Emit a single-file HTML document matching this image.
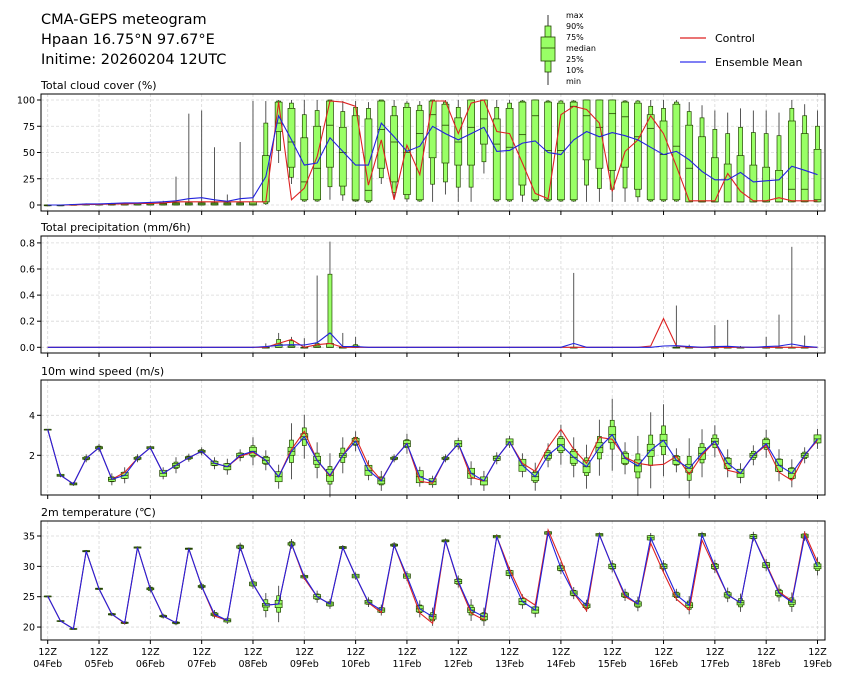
<!DOCTYPE html>
<html><head><meta charset="utf-8"><title>CMA-GEPS meteogram</title>
<style>
html,body{margin:0;padding:0;background:#fff;}
svg{display:block;font-family:"DejaVu Sans","Liberation Sans",sans-serif;}
</style></head>
<body>
<svg id="chart" width="845" height="681" viewBox="0 0 845 681" xmlns="http://www.w3.org/2000/svg">
<text x="41" y="24" font-size="14.5">CMA-GEPS meteogram</text>
<text x="41" y="44" font-size="14.5">Hpaan 16.75°N 97.67°E</text>
<text x="41" y="64" font-size="14.5">Initime: 20260204 12UTC</text>
<g>
<line x1="548" y1="15" x2="548" y2="85" stroke="#333" stroke-width="1"/>
<rect x="545" y="26" width="6" height="11" fill="#99ff66" stroke="#224400" stroke-width="0.8"/>
<rect x="545" y="61" width="6" height="11" fill="#99ff66" stroke="#224400" stroke-width="0.8"/>
<rect x="541" y="37" width="14" height="24" fill="#99ff66" stroke="#224400" stroke-width="0.8"/>
<line x1="541" y1="48" x2="555" y2="48" stroke="#224400" stroke-width="0.8"/>
<g font-size="8" fill="#000">
<text x="566" y="18">max</text><text x="566" y="29">90%</text><text x="566" y="40">75%</text><text x="566" y="51">median</text><text x="566" y="62">25%</text><text x="566" y="73">10%</text><text x="566" y="84">min</text>
</g></g>
<g><line x1="680" y1="38" x2="706" y2="38" stroke="#dd2222" stroke-width="1.2"/><text x="715" y="42" font-size="11">Control</text></g>
<g><line x1="680" y1="62" x2="706" y2="62" stroke="#3333ee" stroke-width="1.2"/><text x="715" y="66" font-size="11">Ensemble Mean</text></g>
<g id="plots"></g>
</svg>
<script>
// ---- data (6-hourly, 61 steps from 12Z 04Feb) ----
const dayLabels = ["04Feb","05Feb","06Feb","07Feb","08Feb","09Feb","10Feb","11Feb","12Feb","13Feb","14Feb","15Feb","16Feb","17Feb","18Feb","19Feb"];
// cloud cover (%)
const cloudMean = [0,0,0.5,1,1,1.5,2,2,2.5,3,4,6,7,5,3.5,6,7,27,85,62,38,40,64,51,38,38,78,65,51,56,75,68,62,68,74,51,52,59,61,50,48,62,70,65,69,66,62,55,48,51,43,32,24,24,31,22,23,24,37,33,29];
const cloudCtrl = [0,0,0,0.5,0.5,1,1,1.5,1.5,2,3,3,3,3,3,3,3,3,98,5,16,46,99,98,94,19,62,5,57,29,99,99,68,97,100,70,68,40,11,6,86,94,91,78,13,51,62,85,68,37,4,4,4,30,13,4,4,7,4,4,4];
const cloudMed = [0,0,0,0.5,0.5,0.5,1,1,1,1,1,1,1,1,1,1,1,3,78,60,22,35,76,50,4,14,72,60,50,68,86,76,60,74,82,58,55,67,85,52,52,94,85,74,87,84,65,73,48,56,35,3,3,3,3,3,3,3,15,15,5];
const cloudQ1 = [0,0,0,0,0,0,0,0,0,0,0,0,0,0,0,0,0,3,70,36,5,5,36,18,5,4,35,22,10,5,45,40,38,38,58,5,5,19,5,5,5,5,43,35,33,36,15,5,5,5,3,3,3,3,3,3,3,3,3,3,3];
const cloudQ3 = [0,0,0.5,1,1,1,1.5,1.5,1.5,1.5,2,2,2,2,2,2,3,47,98,92,64,75,99,74,85,82,99,85,93,90,99,96,83,100,100,82,92,98,100,98,97,98,100,100,100,98,97,86,80,96,76,65,45,39,47,38,36,33,80,68,53];
const cloudP90 = [0,0,0.5,1,1,1,1.5,1.5,1.5,1.5,2,2,2,2,2,2,3,78,99,97,86,90,100,89,93,92,100,94,97,95,100,98,93,100,100,93,97,99,100,99,99,99,100,100,100,99,99,94,92,98,89,83,72,68,74,69,68,66,92,85,75];
const cloudMin = [0,0,0,0,0,0,0,0,0,0,0,0,0,0,0,0,0,0,40,20,3,3,5,4,3,2,20,5,3,3,3,10,3,3,30,3,3,3,3,3,3,3,3,3,3,3,3,3,3,3,3,3,3,3,3,3,3,3,3,3,3];
const cloudMax = [0,0,1,1.5,1.5,2,2,2,3,4,27,87,90,55,10,60,99,99,100,100,100,100,100,99,99,98,100,100,99,99,100,100,100,100,100,100,100,100,100,100,100,100,100,100,100,100,100,100,100,100,98,95,90,88,92,90,90,88,100,96,90];
// precipitation (mm/6h)
const precMean = [0,0,0,0,0,0,0,0,0,0,0,0,0,0,0,0,0,0.005,0.015,0.02,0.018,0.035,0.11,0.005,0.005,0,0,0,0,0,0,0,0,0,0,0,0,0,0,0,0,0.03,0,0,0,0,0,0,0.01,0.012,0.005,0,0.005,0.008,0.002,0,0.005,0.01,0.025,0.008,0];
const precCtrl = [0,0,0,0,0,0,0,0,0,0,0,0,0,0,0,0,0,0,0.03,0.06,0,0.02,0.03,0,0,0,0,0,0,0,0,0,0,0,0,0,0,0,0,0,0,0,0,0,0,0,0,0.01,0.22,0.01,0,0,0,0,0,0,0,0,0,0,0];
const precQ3 = [0,0,0,0,0,0,0,0,0,0,0,0,0,0,0,0,0,0,0.025,0.01,0,0.01,0.03,0,0.01,0,0,0,0,0,0,0,0,0,0,0,0,0,0,0,0,0,0,0,0,0,0,0,0,0,0,0,0,0,0,0,0,0,0,0,0];
const precP90 = [0,0,0,0,0,0,0,0,0,0,0,0,0,0,0,0,0,0,0.06,0.05,0,0.03,0.56,0,0.02,0,0,0,0,0,0,0,0,0,0,0,0,0,0,0,0,0,0,0,0,0,0,0,0,0,0,0,0,0,0,0,0,0,0,0,0];
const precMax = [0,0,0,0,0,0,0,0,0,0,0,0,0,0,0,0,0,0.03,0.11,0.08,0.07,0.55,0.81,0.11,0.08,0,0,0,0,0,0,0,0,0,0,0,0,0,0,0,0,0.57,0,0,0,0,0,0,0,0.32,0.02,0,0.17,0.21,0.01,0,0.08,0.25,0.77,0.09,0];
// 10m wind speed (m/s)
const windMean = [3.3,1.0,0.57,1.85,2.38,0.8,1.0,1.85,2.38,1.1,1.5,1.88,2.2,1.6,1.43,2.0,2.2,1.75,0.93,2.2,2.93,1.75,1.0,2.0,2.7,1.25,0.72,1.85,2.58,0.93,0.68,1.85,2.58,1.1,0.72,1.85,2.67,1.5,0.93,2.0,2.53,1.9,1.43,2.38,3.03,1.85,1.47,2.25,2.75,1.75,1.35,2.1,2.7,1.6,1.1,2.0,2.58,1.5,1.1,2.0,2.82];
const windCtrl = [3.3,1.0,0.57,1.85,2.38,0.8,1.15,1.85,2.38,1.1,1.5,1.88,2.2,1.6,1.43,1.95,2.15,1.75,0.93,2.3,3.2,1.75,0.95,2.0,2.9,1.5,0.75,1.85,2.6,0.7,0.6,1.85,2.58,0.9,0.72,1.85,2.67,1.6,1.2,2.4,3.3,2.3,1.6,2.9,2.8,1.9,1.6,1.5,1.55,1.95,1.05,2.0,2.7,1.25,1.1,2.0,2.5,1.15,0.75,2.0,2.75];
const windIqr = [0,0.05,0.05,0.05,0.05,0.1,0.15,0.05,0.05,0.15,0.1,0.05,0.05,0.1,0.15,0.1,0.2,0.15,0.25,0.2,0.15,0.2,0.3,0.1,0.15,0.25,0.15,0.05,0.15,0.3,0.15,0.05,0.15,0.25,0.2,0.1,0.15,0.3,0.2,0.15,0.3,0.3,0.3,0.25,0.4,0.25,0.3,0.3,0.3,0.2,0.2,0.3,0.15,0.25,0.2,0.1,0.2,0.3,0.25,0.1,0.2];
const windRng = [0,0.1,0.1,0.2,0.2,0.3,0.4,0.2,0.1,0.3,0.4,0.2,0.2,0.3,0.4,0.3,0.7,0.5,0.6,1.4,1.1,0.9,1.1,0.9,0.5,0.5,0.5,0.2,0.5,0.5,0.3,0.2,0.3,0.6,0.5,0.3,0.3,0.6,0.7,0.6,1.0,1.0,1.1,1.4,1.8,0.8,1.5,1.9,1.8,0.6,1.5,1.2,0.8,0.7,0.5,0.5,0.7,0.8,0.7,0.4,0.5];
// 2m temperature (°C)
const tempMean = [25.1,21.0,19.7,32.5,26.3,22.1,20.7,33.1,26.3,21.8,20.7,32.9,26.7,22.1,21.1,33.2,27.1,23.6,23.8,33.7,28.3,25.0,23.8,33.1,28.4,24.1,22.8,33.5,28.4,23.0,21.7,34.2,27.5,22.8,21.7,34.9,28.9,24.2,22.8,35.5,29.7,25.6,23.5,35.2,30.0,25.3,23.8,34.7,30.0,25.3,23.6,35.2,30.0,25.3,24.0,34.9,30.2,25.6,24.1,35.0,30.0];
const tempCtrl = [25.1,21.0,19.7,32.5,26.3,22.1,20.6,33.1,26.3,21.8,20.7,32.9,26.7,21.8,21.1,33.2,27.1,23.6,23.8,33.7,28.0,25.0,23.8,33.1,28.4,24.0,22.4,33.5,28.0,22.3,20.6,34.2,27.3,22.3,21.2,34.9,29.5,25.0,23.6,36.0,31.0,25.6,22.7,35.2,30.0,25.0,23.8,33.8,29.0,24.6,22.8,34.3,29.7,25.3,24.0,34.9,30.4,25.8,24.3,35.5,30.7];
const tempIqr = [0,0.05,0.05,0.1,0.1,0.1,0.1,0.1,0.15,0.1,0.1,0.1,0.15,0.2,0.25,0.2,0.3,0.3,0.6,0.2,0.2,0.35,0.3,0.15,0.3,0.3,0.35,0.15,0.35,0.5,0.4,0.15,0.35,0.4,0.5,0.2,0.4,0.5,0.5,0.2,0.35,0.35,0.3,0.2,0.35,0.3,0.35,0.35,0.35,0.3,0.4,0.2,0.35,0.35,0.35,0.3,0.4,0.4,0.35,0.3,0.4];
const tempRng = [0,0.1,0.1,0.2,0.2,0.3,0.3,0.2,0.6,0.4,0.4,0.2,0.6,0.7,0.6,0.7,0.8,2.0,3.0,0.8,0.5,1.0,0.8,0.4,0.6,0.8,0.9,0.5,0.8,1.4,1.5,0.4,1.0,1.8,1.5,0.4,1.0,1.2,1.2,0.5,1.0,1.0,1.0,0.4,1.0,1.0,1.2,0.8,1.0,1.0,1.5,0.5,1.1,1.2,1.5,0.8,1.0,1.4,1.6,0.8,1.5];

// ---- layout ----
const NS = "http://www.w3.org/2000/svg";
const plots = document.getElementById("plots");
const X0 = 41, X1 = 825;
function xScale(i){ return 47.7 + 12.83 * i; }
function mk(tag, attrs, parent){
  const e = document.createElementNS(NS, tag);
  for (const k in attrs) e.setAttribute(k, attrs[k]);
  (parent || plots).appendChild(e);
  return e;
}
const panels = [
  {name:"cloud", title:"Total cloud cover (%)", top:94, bot:211, y:v=>205-1.05*v, ticks:[0,25,50,75,100], fmt:v=>String(v)},
  {name:"precip", title:"Total precipitation (mm/6h)", top:236, bot:353, y:v=>347.3-130.5*v, ticks:[0,0.2,0.4,0.6,0.8], fmt:v=>v.toFixed(1)},
  {name:"wind", title:"10m wind speed (m/s)", top:380, bot:495, y:v=>495.3-20*v, ticks:[2,4], fmt:v=>String(v)},
  {name:"temp", title:"2m temperature (\u2103)", top:521, bot:640, y:v=>536-(v-35)*6.07, ticks:[20,25,30,35], fmt:v=>String(v)}
];

function drawFrame(p){
  const g = mk("g", {});
  
  
  const t = mk("text", {x:41, y:p.top-5, "font-size":11}, g);
  t.textContent = p.title;
  
  
  for (let d = 0; d < dayLabels.length; d++){
    const x = xScale(d*4);
    const gl = mk("line", {x1:x, x2:x, y1:p.top, y2:p.bot, stroke:"#d8d8d8", "stroke-width":0.8, "stroke-dasharray":"3,2"}, g);
    
    
    mk("line", {x1:x, x2:x, y1:p.bot, y2:p.bot+4, stroke:"#000", "stroke-width":1}, g);
  }
  p.ticks.forEach(v=>{
    const y = p.y(v);
    const gl = mk("line", {x1:X0, x2:X1, y1:y, y2:y, stroke:"#d8d8d8", "stroke-width":0.8, "stroke-dasharray":"3,2"}, g);
    
    
    mk("line", {x1:X0-4, x2:X0, y1:y, y2:y, stroke:"#000", "stroke-width":1}, g);
    const tl = mk("text", {x:X0-6, y:y+3.5, "font-size":9.5, "text-anchor":"end"}, g);
    tl.textContent = p.fmt(v);
    
    
  });
  return g;
}
function drawBoxes(p, g, mn, p10, q1, med, q3, p90, mx){
  const bg = mk("g", {}, g);
  
  
  for (let i = 0; i < mn.length; i++){
    const x = xScale(i);
    if (p.name === "precip" && mx[i] <= 0) continue;
    const w = mk("line", {x1:x, x2:x, y1:p.y(mx[i]), y2:p.y(mn[i]), stroke:"#444", "stroke-width":0.9}, bg);
    
    
    const n = mk("rect", {x:x-2, y:p.y(p90[i]), width:4, height:Math.max(0.8, p.y(p10[i])-p.y(p90[i])), fill:"#99ff66", stroke:"#224400", "stroke-width":0.7}, bg);
    
    
    const b = mk("rect", {x:x-3.5, y:p.y(q3[i]), width:7, height:Math.max(0.8, p.y(q1[i])-p.y(q3[i])), fill:"#99ff66", stroke:"#224400", "stroke-width":0.7}, bg);
    
    
    mk("line", {x1:x-3.5, x2:x+3.5, y1:p.y(med[i]), y2:p.y(med[i]), stroke:"#224400", "stroke-width":0.8}, bg);
  }
}
function drawLine(p, g, vals, color, name){
  const pts = vals.map((v,i)=>xScale(i).toFixed(1)+","+p.y(v).toFixed(1)).join(" ");
  const l = mk("polyline", {points:pts, fill:"none", stroke:color, "stroke-width":1.1}, g);
  
  
}
function drawBorder(p, g){
  const r = mk("rect", {x:X0, y:p.top, width:X1-X0, height:p.bot-p.top, fill:"none", stroke:"#000", "stroke-width":1}, g);
  
  
}
function between(a, b, f){ return a.map((v,i)=>v + (b[i]-v)*f); }
function addSub(base, d, s){ return base.map((v,i)=>v + s*d[i]); }

// cloud
let p = panels[0], g = drawFrame(p);
drawBoxes(p, g, cloudMin, between(cloudQ1, cloudMin, 0.6), cloudQ1, cloudMed, cloudQ3, cloudP90, cloudMax);
drawLine(p, g, cloudCtrl, "#dd2222", "cloud-control-line");
drawLine(p, g, cloudMean, "#2222dd", "cloud-ensemble-mean-line");
drawBorder(p, g);
// precip
p = panels[1]; g = drawFrame(p);
const precZero = precMax.map(()=>0);
drawBoxes(p, g, precZero, precZero, precZero, precZero, precQ3, precP90, precMax);
drawLine(p, g, precCtrl, "#dd2222", "precip-control-line");
drawLine(p, g, precMean, "#2222dd", "precip-ensemble-mean-line");
drawBorder(p, g);
// wind
p = panels[2]; g = drawFrame(p);
drawBoxes(p, g, addSub(windMean, windRng, -1), addSub(windMean, windRng, -0.4), addSub(windMean, windIqr, -1), windMean, addSub(windMean, windIqr, 1), addSub(windMean, windRng, 0.4), addSub(windMean, windRng, 1));
drawLine(p, g, windCtrl, "#dd2222", "wind-control-line");
drawLine(p, g, windMean, "#2222dd", "wind-ensemble-mean-line");
drawBorder(p, g);
// temp
p = panels[3]; g = drawFrame(p);
drawBoxes(p, g, addSub(tempMean, tempRng, -1), addSub(tempMean, tempRng, -0.45), addSub(tempMean, tempIqr, -1), tempMean, addSub(tempMean, tempIqr, 1), addSub(tempMean, tempRng, 0.45), addSub(tempMean, tempRng, 1));
drawLine(p, g, tempCtrl, "#dd2222", "temp-control-line");
drawLine(p, g, tempMean, "#2222dd", "temp-ensemble-mean-line");
drawBorder(p, g);

// x-axis labels
dayLabels.forEach((lab, d)=>{
  const x = xScale(d*4);
  const t1 = mk("text", {x:x, y:655, "font-size":9.5, "text-anchor":"middle"});
  t1.textContent = "12Z";
  
  
  const t2 = mk("text", {x:x, y:667, "font-size":9.5, "text-anchor":"middle"});
  t2.textContent = lab;
  
  
});
</script>
</body></html>
